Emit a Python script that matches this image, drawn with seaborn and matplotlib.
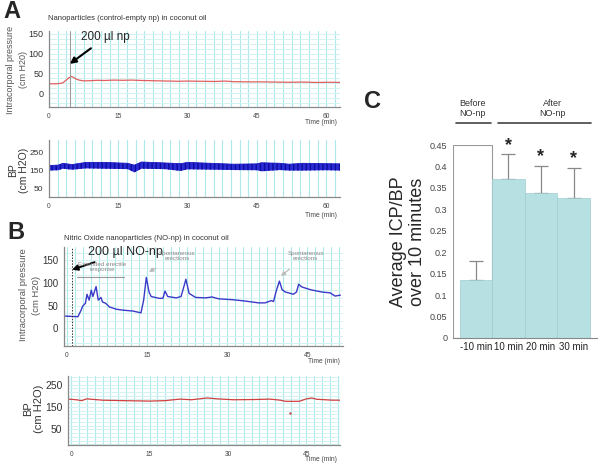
import matplotlib
matplotlib.use('Agg')
import matplotlib.pyplot as plt
from matplotlib.ticker import MultipleLocator
from matplotlib.patches import Rectangle
import numpy as np
import seaborn as sns
import pandas as pd

# panel A - control np, intracorporal pressure
a_icp_t = [0, 1, 2, 3, 3.6, 4.2, 4.8, 5.3, 5.8, 6.5, 7.5, 9, 10.5, 12, 14, 16, 18, 20, 22, 24, 26,
           28, 30, 33, 36, 38, 40, 43, 46, 49, 52, 55, 58, 61, 63]
a_icp_v = [24, 23.5, 24, 26, 32, 38, 42, 40, 36, 33, 31, 31.5, 32.5, 32, 33, 32.5, 33, 32, 31.5, 31, 30.5,
           30, 30.5, 30, 29.5, 30.5, 29, 28.5, 28.5, 28, 27.5, 28, 27, 27.5, 27]

# panel A - blood pressure (pulse envelope)
a_bp_t = [0, 2, 3, 5, 8, 12, 17, 18.5, 20, 25, 28.5, 30, 35, 40, 45, 46, 50, 52, 55, 60, 63]
a_bp_hi = [178, 180, 190, 183, 195, 195, 190, 180, 197, 192, 188, 195, 190, 185, 187, 193, 190, 185, 190, 188, 187]
a_bp_lo = [150, 152, 160, 155, 162, 160, 158, 140, 160, 158, 148, 157, 155, 153, 152, 146, 153, 150, 150, 152, 150]

# panel B - NO-np, intracorporal pressure
b_icp_t = [-0.5, 2.1, 2.7, 3.0, 3.5, 3.8, 4.2, 4.6, 4.9, 5.5, 5.9, 6.4, 6.7, 7.3, 8.0, 9.3, 10.5, 12.4,
           13.9, 14.4, 14.9, 15.4, 15.8, 17.3, 18.0, 18.4, 18.9, 20.5, 21.4, 22.0, 22.3, 22.9, 24.1, 26,
           27.2, 28.4, 31, 33.4, 35.9, 37.1, 38.3, 38.7, 39.2, 39.8, 40.3, 40.9, 42.4, 43.0, 43.4, 44,
           45.6, 47.7, 49.3, 50.2, 51.2]
b_icp_v = [27, 25.5, 40, 49, 55, 75, 62, 84, 70, 92, 62, 68, 58, 55, 47, 42, 40, 38,
           34, 62, 112, 80, 70, 66, 66, 82, 70, 67, 70, 95, 108, 77, 68, 67,
           69, 65, 63, 60, 56, 56, 61, 59, 82, 104, 85, 80, 75, 80, 97, 91,
           85, 80, 78, 71, 73]

# panel B - blood pressure
b_bp_t = [-0.5, 1, 2, 3, 4, 6, 10, 15, 18, 20.8, 23, 26, 28, 31, 35, 38, 40, 41, 43.6, 45, 46, 47,
          48.6, 50, 51.4]
b_bp_v = [185, 182, 178, 186, 184, 180, 178, 176, 178, 185, 182, 190, 186, 182, 183, 185, 180, 175,
          175, 186, 190, 184, 182, 180, 180]

# panel C - bar chart
c_labels = ["-10 min", "10 min", "20 min", "30 min"]
c_means = [0.135, 0.37, 0.338, 0.327]
c_err = [0.045, 0.058, 0.064, 0.070]

sns.set_style('white')
plt.rcParams['font.family'] = ['Liberation Sans', 'DejaVu Sans']

GRID = '#aee8ea'
GRID_LIGHT = '#d2f2f2'


def style_trace(ax, xlim, ylim, yticks, xminor, yminor, ysize, time_off, hgrid=True):
    ax.set_xlim(*xlim)
    ax.set_ylim(*ylim)
    ax.set_xticks([0, 15, 30, 45, 60] if xlim[1] > 60 else [0, 15, 30, 45])
    ax.set_yticks(yticks)
    ax.xaxis.set_minor_locator(MultipleLocator(xminor))
    ax.yaxis.set_minor_locator(MultipleLocator(yminor))
    ax.grid(which='both', axis='x', color=GRID, lw=0.8)
    if hgrid:
        ax.grid(which='both', axis='y', color=GRID_LIGHT, lw=0.7)
    ax.set_axisbelow(True)
    for s in ['top', 'right']:
        ax.spines[s].set_visible(False)
    for s in ['left', 'bottom']:
        ax.spines[s].set_color('#888888')
        ax.spines[s].set_linewidth(0.9)
    ax.tick_params(axis='x', labelsize=4.8, colors='#444444', length=1.5, width=0.5, pad=2.5)
    ax.tick_params(axis='y', labelsize=ysize, colors='#333333', length=0, pad=4)
    ax.tick_params(which='minor', length=0)
    ax.set_xlabel('')
    ax.set_ylabel('')
    ax.annotate('Time (min)', xy=(1.0, 0), xycoords='axes fraction', xytext=(-2, -time_off),
                textcoords='offset points', ha='right', va='center', fontsize=4.8, color='#444444')


fig = plt.figure(figsize=(6, 4.66), dpi=100)

# ---- A: ICP
ax1 = fig.add_axes([0.0817, 0.7704, 0.485, 0.163])
sns.lineplot(x=a_icp_t, y=a_icp_v, ax=ax1, color='#e06060', lw=0.9)
style_trace(ax1, (0, 63), (-35, 157), [0, 50, 100, 150], 1.875, 12.5, 6.5, 11.5)
ax1.axvline(4.6, color='#999999', lw=0.7)
ax1.annotate('200 µl np', xy=(4.5, 74), xytext=(7.0, 141), fontsize=8.5, va='center',
             arrowprops=dict(arrowstyle='-|>', color='black', lw=1.5, mutation_scale=9,
                             shrinkA=2, shrinkB=0))

# ---- A: BP
ax2 = fig.add_axes([0.0817, 0.5773, 0.485, 0.1223])
ax2.fill_between(a_bp_t, a_bp_lo, a_bp_hi, facecolor='#2a2ad6', edgecolor='#0c0c9a',
                 hatch='||||', lw=0)
sns.lineplot(x=a_bp_t, y=a_bp_hi, ax=ax2, color='#1a1ac0', lw=0.6)
style_trace(ax2, (0, 63), (5, 318), [50, 150, 250], 1.875, 50, 6, 13, hgrid=False)

# ---- B: ICP
ax3 = fig.add_axes([0.1067, 0.2575, 0.465, 0.2124])
sns.lineplot(x=b_icp_t, y=b_icp_v, ax=ax3, color='#3a3ac8', lw=1.0)
style_trace(ax3, (-0.5, 51.7), (-39, 179), [0, 50, 100, 150], 1.5, 50 / 3, 7, 11.5)
ax3.axvline(1.0, color='#333333', lw=0.7, ls=(0, (1.5, 1.5)))
ax3.annotate('200 µl NO-np', xy=(1.0, 129), xytext=(3.9, 168), fontsize=9, va='center',
             arrowprops=dict(arrowstyle='-|>', color='black', lw=1.4, mutation_scale=8,
                             shrinkA=2, shrinkB=0))
ax3.text(6.6, 134, 'Extended erectile\nresponse', fontsize=4.5, color='#888888', ha='center',
         va='center', linespacing=1.0)
ax3.plot([2, 10.7], [112, 112], color='#999999', lw=0.8)
ax3.annotate('Spontaneous\nerections', xy=(15.4, 124), xytext=(20.7, 160), fontsize=4.5,
             color='#888888', ha='center', va='center', linespacing=1.0,
             arrowprops=dict(arrowstyle='-|>', color='#bbbbbb', lw=0.9, mutation_scale=6,
                             shrinkA=6, shrinkB=0))
ax3.annotate('Spontaneous\nerections', xy=(40.1, 115), xytext=(44.7, 160), fontsize=4.5,
             color='#888888', ha='center', va='center', linespacing=1.0,
             arrowprops=dict(arrowstyle='-|>', color='#bbbbbb', lw=0.9, mutation_scale=6,
                             shrinkA=6, shrinkB=0))

# ---- B: BP
ax4 = fig.add_axes([0.1133, 0.0451, 0.4533, 0.148])
sns.lineplot(x=b_bp_t, y=b_bp_v, ax=ax4, color='#d04040', lw=0.9)
ax4.plot([41.8], [125], marker='.', ms=1.5, color='#d04040')
style_trace(ax4, (-0.6, 51.4), (-20, 288), [50, 150, 250], 1.5, 50 / 3, 7.5, 10.5)

# y labels of the traces
fig.text(0.029, 1 - 70 / 466, 'Intracorporal pressure\n(cm H20)', rotation=90, ha='center',
         va='center', fontsize=6.5, color='#555555', linespacing=1.6)
fig.text(0.031, 1 - 170 / 466, 'BP\n(cm H2O)', rotation=90, ha='center', va='center',
         fontsize=7.5, color='#333333', linespacing=1.2)
fig.text(0.050, 1 - 295 / 466, 'Intracorporal pressure\n(cm H20)', rotation=90, ha='center',
         va='center', fontsize=6.8, color='#555555', linespacing=1.6)
fig.text(0.056, 1 - 409 / 466, 'BP\n(cm H2O)', rotation=90, ha='center', va='center',
         fontsize=8, color='#333333', linespacing=1.2)

# titles and panel letters
fig.text(0.08, 1 - 18 / 466, 'Nanoparticles (control-empty np) in coconut oil', fontsize=5.5,
         color='#333333', va='center')
fig.text(0.107, 1 - 238 / 466, 'Nitric Oxide nanoparticles (NO-np) in coconut oil', fontsize=5.5,
         color='#333333', va='center')
fig.text(0.006, 1 - 12 / 466, 'A', fontsize=17, fontweight='bold', va='center')
fig.text(0.013, 1 - 232 / 466, 'B', fontsize=17, fontweight='bold', va='center')
fig.text(0.607, 1 - 101 / 466, 'C', fontsize=17, fontweight='bold', va='center')

# ---- C: bars
ax5 = fig.add_axes([0.755, 0.2747, 0.240, 0.414])
ax5.add_patch(Rectangle((-0.7, 0), 1.2, 0.45, facecolor='white', edgecolor='#999999', lw=0.8,
                        zorder=0))
df = pd.DataFrame({'time': c_labels, 'ratio': c_means})
sns.barplot(data=df, x='time', y='ratio', ax=ax5, color='#b7e0e3', width=1.0, saturation=1,
            edgecolor='#9fcdd0', linewidth=0.5, errorbar=None, zorder=2)
ax5.errorbar(range(len(c_means)), c_means, yerr=[[0] * len(c_err), c_err], fmt='none',
             ecolor='#888888', elinewidth=0.9, capsize=5, capthick=0.9, zorder=1)
for i, (m, e) in enumerate(zip(c_means, c_err)):
    if i > 0:
        ax5.text(i, m + e + 0.001, '*', ha='center', va='bottom', fontsize=13, fontweight='bold')
ax5.set_xlim(-0.7, 3.72)
ax5.set_ylim(0, 0.45)
ax5.set_yticks(np.arange(0, 0.46, 0.05))
ax5.set_yticklabels(['0', '0.05', '0.1', '0.15', '0.2', '0.25', '0.3', '0.35', '0.4', '0.45'])
ax5.set_xticks([0, 1, 2, 3])
ax5.set_xticklabels(c_labels)
ax5.set_xticks([-0.5, 0.5, 1.5, 2.5, 3.5], minor=True)
ax5.tick_params(axis='x', which='major', length=0, labelsize=7, pad=3, colors='#222222')
ax5.tick_params(axis='x', which='minor', length=8, width=0.6, color='#888888', direction='out')
ax5.tick_params(axis='y', labelsize=6.5, colors='#444444', length=0, pad=4)
for s in ['top', 'right', 'left']:
    ax5.spines[s].set_visible(False)
ax5.spines['bottom'].set_color('#888888')
ax5.spines['bottom'].set_linewidth(0.8)
ax5.set_xlabel('')
ax5.set_ylabel('Average ICP/BP\nover 10 minutes', fontsize=13, linespacing=1.15)
ax5.yaxis.set_label_coords(-0.19, 0.5)

# before / after brackets
ax5.text(-0.1, 0.535, 'Before\nNO-np', ha='center', va='center', fontsize=6.5, color='#333333',
         linespacing=1.1)
ax5.text(2.35, 0.535, 'After\nNO-np', ha='center', va='center', fontsize=6.5, color='#333333',
         linespacing=1.1)
ax5.plot([-0.62, 0.46], [0.501, 0.501], color='#444444', lw=1.2, clip_on=False)
ax5.plot([0.68, 3.55], [0.501, 0.501], color='#444444', lw=1.2, clip_on=False)

fig.savefig('out.png', dpi=100)
